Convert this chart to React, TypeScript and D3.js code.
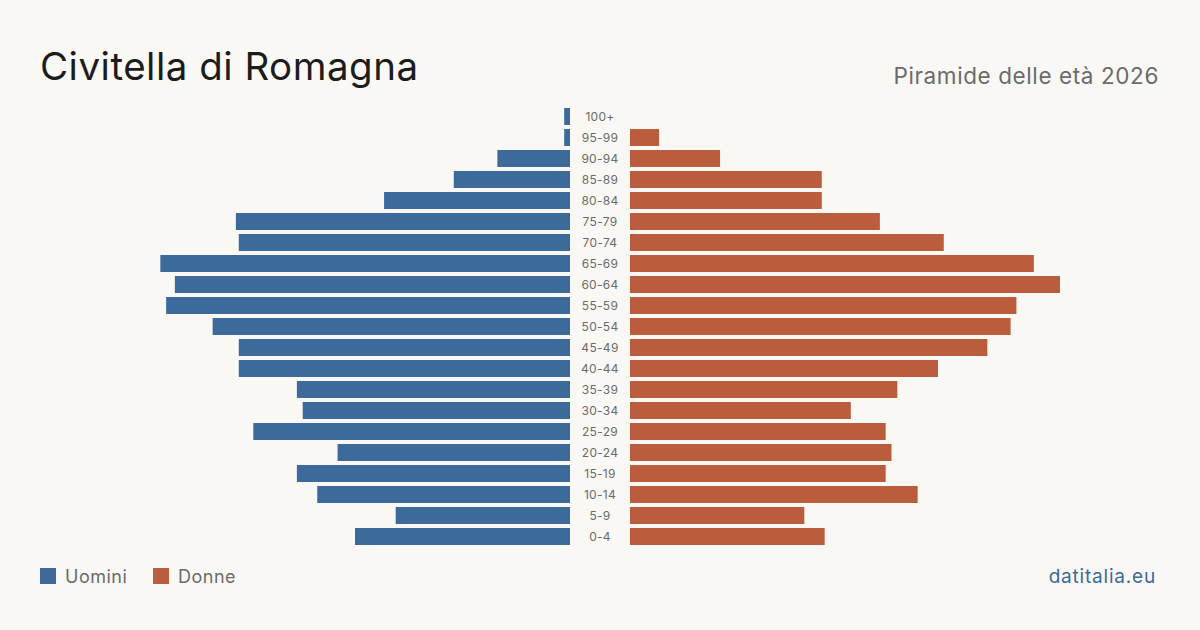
import React from "react";
import * as d3 from "d3";

const ageGroups = ["100+","95-99","90-94","85-89","80-84","75-79","70-74","65-69","60-64","55-59","50-54","45-49","40-44","35-39","30-34","25-29","20-24","15-19","10-14","5-9","0-4"];
const males = [1,1,12.5,20,32,57.5,57,70.5,68,69.5,61.5,57,57,47,46,54.5,40,47,43.5,30,37];
const females = [0,5,15.5,33,33,43,54,69.5,74,66.5,65.5,61.5,53,46,38,44,45,44,49.5,30,33.5];

const title = "Civitella di Romagna";
const subtitle = "Piramide delle età 2026";
const legendLabels = ["Uomini", "Donne"];
const source = "datitalia.eu";

const W = 1200, H = 630;
const BLUE = "#3c6b9b";
const ORANGE = "#b95d3d";
const FONT = "Inter, 'Noto Sans', sans-serif";

export default function App() {
  const y = d3.scaleBand<string>().domain(ageGroups).range([106, 547]).paddingInner(4 / 21).paddingOuter(2 / 21);
  const maxV = d3.max(females.concat(males)) as number;
  const len = d3.scaleLinear().domain([0, maxV]).range([0, 430]);
  const leftEdge = 570, rightEdge = 630, center = 600;

  return (
    <svg width={W} height={H} viewBox={`0 0 ${W} ${H}`} style={{ position: "fixed", left: 0, top: 0, display: "block" }}>
      <rect x={0} y={0} width={W} height={H} fill="#f9f8f4" />
      <text x={40} y={80} fontFamily={FONT} fontSize={38.5} letterSpacing={0.5} fill="#1c1c1c">{title}</text>
      <text x={1159} y={84} fontFamily={FONT} fontSize={22.5} letterSpacing={0.6} fill="#6b6b6b" textAnchor="end">{subtitle}</text>
      {ageGroups.map((g, i) => {
        const yy = y(g) as number;
        const bw = y.bandwidth();
        return (
          <g key={g}>
            {males[i] > 0 && <rect x={leftEdge - len(males[i])} y={yy} width={len(males[i])} height={bw} fill={BLUE} />}
            {females[i] > 0 && <rect x={rightEdge} y={yy} width={len(females[i])} height={bw} fill={ORANGE} />}
            <text x={center} y={yy + bw / 2} dy="0.35em" textAnchor="middle" fontFamily={FONT} fontSize={12} letterSpacing={0.3} fill="#6b6b6b">{g}</text>
          </g>
        );
      })}
      <rect x={40} y={568} width={16} height={16} fill={BLUE} />
      <text x={65} y={583} fontFamily={FONT} fontSize={18} letterSpacing={0.5} fill="#6b6b6b">{legendLabels[0]}</text>
      <rect x={153} y={568} width={16} height={16} fill={ORANGE} />
      <text x={178} y={583} fontFamily={FONT} fontSize={18} letterSpacing={0.5} fill="#6b6b6b">{legendLabels[1]}</text>
      <text x={1156} y={583} textAnchor="end" fontFamily={FONT} fontSize={19} letterSpacing={0.8} fill="#3c6b9b">{source}</text>
    </svg>
  );
}
